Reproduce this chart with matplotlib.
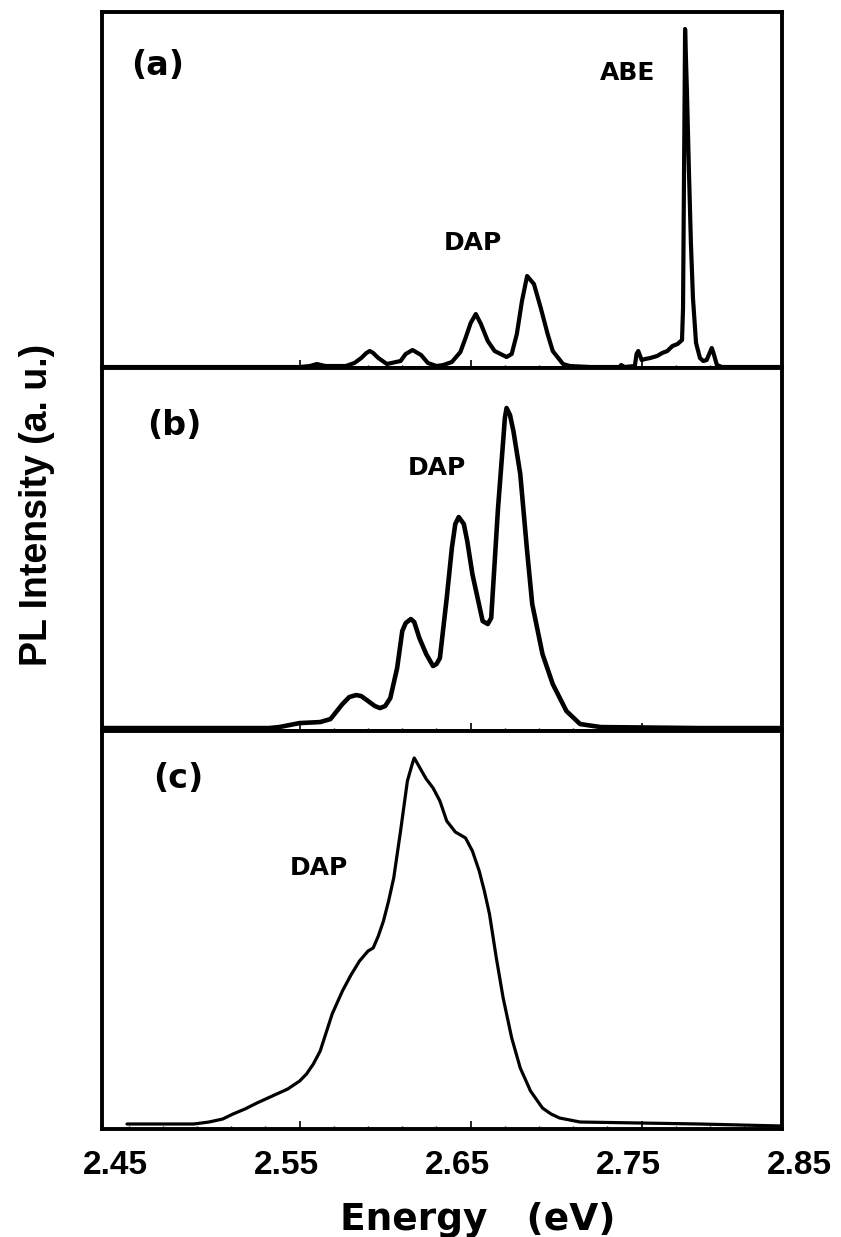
import numpy as np
import matplotlib
matplotlib.use("Agg")
import matplotlib.pyplot as plt

# ---- data (energy in eV, PL intensity in a.u.) ----
energy_a = [2.4424, 2.500, 2.558, 2.564, 2.568, 2.573, 2.585, 2.590, 2.594, 2.597,
            2.599, 2.601, 2.604, 2.609, 2.617, 2.620, 2.624, 2.629, 2.633, 2.638,
            2.642, 2.647, 2.652, 2.655, 2.658, 2.661, 2.664, 2.668, 2.672, 2.679,
            2.682, 2.685, 2.688, 2.691, 2.695, 2.699, 2.703, 2.706, 2.712,
            2.716, 2.728, 2.745, 2.746, 2.748, 2.754, 2.755, 2.756, 2.758, 2.760,
            2.763, 2.767, 2.770, 2.773, 2.776, 2.779, 2.7816, 2.7822, 2.7828, 2.7834,
            2.7845, 2.7856, 2.7868, 2.7880, 2.7898, 2.7921, 2.794, 2.796, 2.798, 2.799,
            2.800, 2.802, 2.805, 2.840]
pl_a = [1, 1, 1, 2, 4, 2, 2, 5, 10, 15,
        17, 15, 10, 4, 7, 14, 18, 13, 5, 2,
        3, 6, 16, 30, 45, 54, 44, 27, 17, 11,
        14, 34, 67, 92, 84, 60, 34, 17, 4,
        2, 1, 1, 3, 1, 2, 14, 17, 8, 9,
        10, 12, 15, 17, 22, 24, 28, 60, 200, 339,
        275, 200, 125, 70, 25, 10, 7, 8, 16, 20,
        15, 3, 1, 1]

energy_b = [2.4424, 2.500, 2.540, 2.546, 2.552, 2.558, 2.570, 2.576, 2.583, 2.587,
            2.591, 2.594, 2.598, 2.602, 2.605, 2.608, 2.611, 2.615, 2.618, 2.620,
            2.623, 2.625, 2.628, 2.632, 2.636, 2.638, 2.640, 2.644, 2.647, 2.649,
            2.651, 2.654, 2.656, 2.659, 2.665, 2.668, 2.670, 2.674, 2.677, 2.678,
            2.679, 2.681, 2.683, 2.687, 2.691, 2.694, 2.700, 2.706, 2.714, 2.722,
            2.734, 2.792, 2.840]
pl_b = [3, 3, 3, 4, 6, 8, 9, 12, 27, 34,
        36, 35, 30, 25, 23, 25, 33, 63, 100, 108,
        112, 109, 93, 77, 65, 67, 73, 133, 183, 207,
        214, 207, 190, 157, 110, 107, 113, 223, 290, 313,
        323, 316, 300, 257, 180, 127, 77, 47, 20, 7,
        4, 3, 3]

energy_c = [2.457, 2.496, 2.505, 2.513, 2.519, 2.526, 2.533, 2.542, 2.551, 2.558,
            2.562, 2.566, 2.570, 2.577, 2.583, 2.588, 2.593, 2.598, 2.601, 2.604,
            2.607, 2.610, 2.613, 2.617, 2.621, 2.624, 2.625, 2.628, 2.632, 2.636,
            2.640, 2.644, 2.649, 2.655, 2.659, 2.663, 2.666, 2.669, 2.673,
            2.677, 2.682, 2.687, 2.693, 2.700, 2.705, 2.710, 2.722, 2.757, 2.792, 2.840]
pl_c = [5, 5, 7, 10, 15, 20, 26, 33, 40, 48,
        55, 65, 78, 115, 138, 154, 168, 178, 181, 193,
        208, 228, 251, 298, 348, 366, 371, 362, 350, 341,
        328, 308, 297, 291, 278, 258, 238, 215, 171,
        131, 91, 61, 38, 21, 15, 11, 7, 6, 5, 3]

tick_labels = ["2.45", "2.55", "2.65", "2.75", "2.85"]
tick_values = [2.45, 2.55, 2.65, 2.75, 2.85]

fig = plt.figure(figsize=(8.41, 12.37), dpi=100)

left, width = 0.1213, 0.8086
ax_a = fig.add_axes([left, 0.7025, width, 0.2878])
ax_b = fig.add_axes([left, 0.4090, width, 0.2935])
ax_c = fig.add_axes([left, 0.0873, width, 0.3218])

bold = dict(family="DejaVu Sans", weight="bold", color="black")

panels = [
    (ax_a, energy_a, pl_a, 356, 3.0, "(a)", (2.475, 303)),
    (ax_b, energy_b, pl_b, 363, 3.3, "(b)", (2.4845, 306)),
    (ax_c, energy_c, pl_c, 398, 2.3, "(c)", (2.487, 350)),
]

for ax, e, p, top, lw, lab, lab_pos in panels:
    ax.plot(e, p, color="black", lw=lw, solid_joinstyle="round",
            solid_capstyle="round")
    ax.set_xlim(2.4424, 2.8401)
    ax.set_ylim(0, top)
    ax.set_yticks([])
    ax.set_xticks([2.558, 2.658, 2.758])
    ax.set_xticks(np.arange(2.458, 2.84, 0.02), minor=True)
    ax.tick_params(axis="x", which="major", direction="in", length=6, width=1.2,
                   labelbottom=False)
    ax.tick_params(axis="x", which="minor", direction="in", length=2.5, width=1.0)
    for s in ax.spines.values():
        s.set_linewidth(2.8)
    ax.text(lab_pos[0], lab_pos[1], lab, fontsize=24, ha="center", va="center", **bold)

ax_a.text(2.750, 295, "ABE", fontsize=18, ha="center", va="center", **bold)
ax_a.text(2.659, 125, "DAP", fontsize=18, ha="center", va="center", **bold)
ax_b.text(2.638, 263, "DAP", fontsize=18, ha="center", va="center", **bold)
ax_c.text(2.569, 261, "DAP", fontsize=18, ha="center", va="center", **bold)

# energy labels under the bottom panel
for v, t in zip(tick_values, tick_labels):
    ax_c.text(v, -0.0905, t, transform=ax_c.get_xaxis_transform(), clip_on=False,
              ha="center", va="center", fontsize=24, family="Liberation Sans",
              weight="bold")

fig.text(478 / 841, 1 - 1230 / 1237, "Energy   (eV)", ha="center", va="baseline",
         fontsize=27, **bold)
fig.text(37 / 841, 1 - 505 / 1237, "PL Intensity (a. u.)", rotation=90,
         ha="center", va="center", fontsize=27, family="Liberation Sans", weight="bold")

fig.savefig("out.png", dpi=100)
